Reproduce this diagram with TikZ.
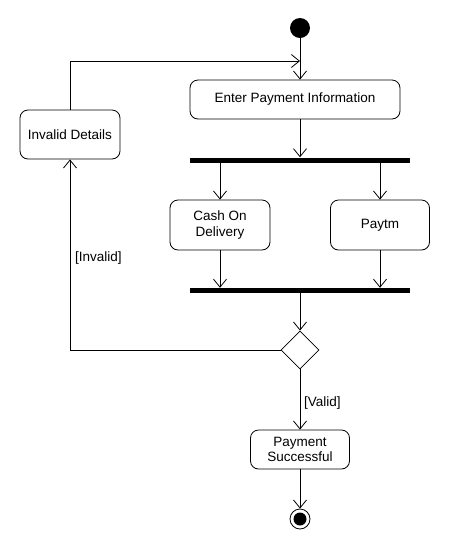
\documentclass[tikz,border=0pt]{standalone}
\usepackage{fontspec}
\setmainfont{Liberation Sans}
\usetikzlibrary{arrows.meta,shapes.geometric}
\begin{document}
\begin{tikzpicture}[x=1pt,y=-1pt,
  every node/.style={font=\fontsize{13.5}{15.5}\selectfont},
  act/.style={draw,line width=0.8pt,rounded corners=8pt,inner sep=0pt,align=center},
  bar/.style={fill=black,inner sep=0pt,minimum width=220pt,minimum height=5pt},
  flow/.style={line width=0.8pt,-{Straight Barb[length=8pt,width=13pt,line width=0.8pt]}},
  plain/.style={line width=0.8pt},
  lbl/.style={inner sep=0pt}]
\useasboundingbox (0,0) rectangle (450,550);
\node[circle,fill=black,inner sep=0pt,minimum size=20pt] (start) at (300,28) {};
\node[act,minimum width=210pt,minimum height=39pt] (enter) at (295,99.5) {Enter Payment Information};
\node[bar] (fork1) at (300,160) {};
\node[act,minimum width=100pt,minimum height=50pt] (cod) at (220,225) {Cash On\\Delivery};
\node[act,minimum width=99pt,minimum height=50pt] (paytm) at (380,225) {Paytm};
\node[bar] (fork2) at (300,290.5) {};
\node[diamond,draw,line width=0.8pt,inner sep=0pt,minimum width=38pt,minimum height=38pt] (dec) at (300,350) {};
\node[act,minimum width=100pt,minimum height=49pt] (invalid) at (70,134.5) {Invalid Details};
\node[act,minimum width=99pt,minimum height=39pt] (pay) at (300,449.5) {Payment\\Successful};
\node[circle,draw,line width=0.8pt,inner sep=0pt,minimum size=20pt] (end) at (300,519) {};
\node[circle,fill=black,inner sep=0pt,minimum size=13pt] (endin) at (end) {};
\coordinate (join) at (300,61);
\node[lbl,anchor=west] (linv) at (75,258) {[Invalid]};
\node[lbl,anchor=west] (lval) at (304,403) {[Valid]};
\draw[flow] (start) -- (start |- enter.north);
\draw[flow] (invalid.north) |- (join);
\draw[flow] (enter.south -| fork1) -- (fork1.north);
\draw[flow] (fork1.south -| cod) -- (cod.north);
\draw[flow] (fork1.south -| paytm) -- (paytm.north);
\draw[flow] (cod.south) -- (cod.south |- fork2.north);
\draw[flow] (paytm.south) -- (paytm.south |- fork2.north);
\draw[flow] (fork2.south) -- (dec.north);
\draw[flow] (dec.west) -| (invalid.south);
\draw[flow] (dec.south) -- (pay.north);
\draw[flow] (pay.south) -- (end.north);
\end{tikzpicture}
\end{document}
